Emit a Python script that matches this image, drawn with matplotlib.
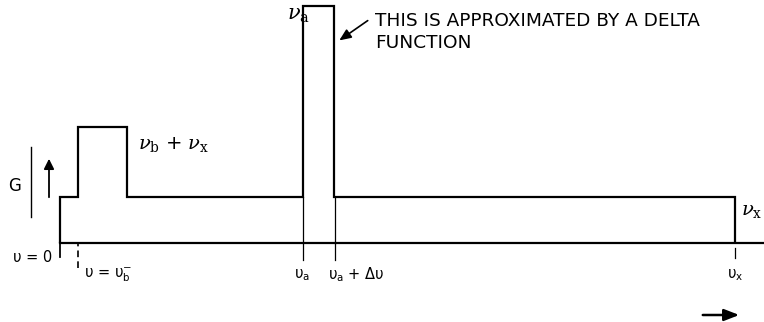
import matplotlib
matplotlib.use("Agg")
import matplotlib.pyplot as plt
from matplotlib.patches import FancyArrowPatch

plt.rcParams["mathtext.fontset"] = "dejavuserif"

# Gain profile G(u): break points along u and the level on each interval
u_edges = [60, 78, 127, 303, 334, 735]
g_levels = [46, 116, 46, 237, 46]
baseline_end = 764

# Labelled positions on the u axis
u_ticks = [60, 303, 335, 735]

fig = plt.figure(figsize=(7.64, 3.22), dpi=100)
ax = fig.add_axes([0, 0, 1, 1])
ax.set_xlim(0, 764)
ax.set_ylim(-79, 243)
ax.axis("off")

lw = 1.6
# baseline G = 0
ax.plot([u_edges[0], baseline_end], [0, 0], color="black", lw=lw)
# step profile
ax.stairs(g_levels, u_edges, baseline=0, color="black", lw=lw, fill=False)
# closing verticals at the ends of the profile
ax.plot([u_edges[0], u_edges[0]], [-14, 0], color="black", lw=lw * 0.8)
# dashed marker at u = u_b
ax.plot([u_edges[1], u_edges[1]], [-25, 0], color="black", lw=1.2, ls=(0, (4, 2.5)))
# ticks below the axis
for xt in u_ticks[1:3]:
    ax.plot([xt, xt], [-17, 0], color="black", lw=0.9)
ax.plot([u_ticks[3], u_ticks[3]], [-15, -5], color="black", lw=0.9)
# thin interior verticals of the narrow peak
for xt in u_ticks[1:3]:
    ax.plot([xt, xt], [0, g_levels[2]], color="black", lw=0.9)

fs = 10.5
fam = ["DejaVu Sans"]
ax.text(52, -15, "υ = 0", ha="right", va="center", fontsize=fs, family=fam)
ax.text(84, -32, r"υ = υ$_{\mathsf{b}}^{-}$", ha="left", va="center", fontsize=fs, family=fam)
ax.text(302, -32, r"υ$_{\mathsf{a}}$", ha="center", va="center", fontsize=fs, family=fam)
ax.text(328, -32, r"υ$_{\mathsf{a}}$ + Δυ", ha="left", va="center", fontsize=fs, family=fam)
ax.text(735, -32, r"υ$_{\mathsf{x}}$", ha="center", va="center", fontsize=fs, family=fam)

ax.text(138, 98, r"$\nu_{\rm b}$ + $\nu_{\rm x}$", ha="left", va="center", fontsize=14)
ax.text(298, 228, r"$\nu_{\rm a}$", ha="center", va="center", fontsize=15)
ax.text(741, 33, r"$\nu_{\rm x}$", ha="left", va="center", fontsize=14)

ax.text(8, 57, "G", ha="left", va="center", fontsize=12, family=fam)
ax.plot([31, 31], [26, 96], color="black", lw=1.0)
ax.add_patch(FancyArrowPatch((49, 43), (49, 87), arrowstyle="-|>,head_length=6,head_width=3",
                             color="black", lw=1.3, mutation_scale=1))

ax.text(375, 221.5, "THIS IS APPROXIMATED BY A DELTA", ha="left", va="center",
        fontsize=13.3, family=fam)
ax.text(375, 199.5, "FUNCTION", ha="left", va="center", fontsize=13.3, family=fam)
ax.add_patch(FancyArrowPatch((370, 224), (337, 201), arrowstyle="-|>,head_length=7,head_width=3",
                             color="black", lw=1.2, mutation_scale=1))

ax.add_patch(FancyArrowPatch((700, -72), (742, -72), arrowstyle="-|>,head_length=9,head_width=3.5",
                             color="black", lw=1.8, mutation_scale=1))

fig.savefig("out.png", dpi=100)
